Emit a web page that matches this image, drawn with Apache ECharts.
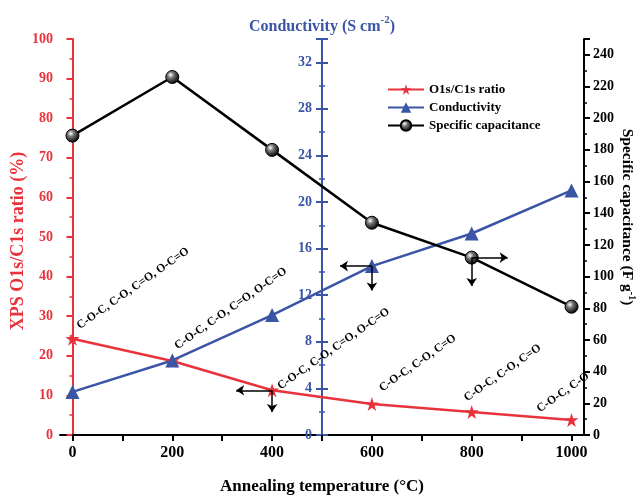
<!DOCTYPE html>
<html>
<head>
<meta charset="utf-8">
<script src="https://cdn.jsdelivr.net/npm/echarts@6/dist/echarts.min.js"></script>
<style>
  html, body { margin: 0; padding: 0; background: #fff; }
  #chart { width: 639px; height: 495px; }
</style>
</head>
<body>
<div id="chart"></div>
<script>
// values
var temps = [0, 200, 400, 600, 800, 1000];
var ratio = [24.3, 18.7, 11.3, 7.8, 5.8, 3.8];          // XPS O1s/C1s (%)
var conductivity = [3.7, 6.4, 10.3, 14.5, 17.3, 21.0];   // S cm-2
var capacitance = [189, 226, 180, 134, 112, 81];         // F g-1
var bondLabels = [
  'C-O-C, C-O, C=O, O-C=O',
  'C-O-C, C-O, C=O, O-C=O',
  'C-O-C, C-O, C=O, O-C=O',
  'C-O-C, C-O, C=O',
  'C-O-C, C-O, C=O',
  'C-O-C, C-O'
];
var xLabelValues = [0, 200, 400, 600, 800, 1000];
var xTickValues = [0, 100, 200, 300, 400, 500, 600, 700, 800, 900, 1000];

var RED = '#e8333c', BLUE = '#3a55a6', BLACK = '#000';
var FONT = 'Liberation Serif';
var SYM = 14;
// where each rotated label starts, relative to its point (px)
var labelShift = [[9, -7], [7, -9], [10, 2], [12, -10], [-3, -8], [-30, -5]];

var ratioData = temps.map(function (t, i) {
  return {
    value: [t, ratio[i]],
    label: { position: [SYM / 2 + labelShift[i][0], SYM / 2 + labelShift[i][1]] }
  };
});
var condData = temps.map(function (t, i) { return [t, conductivity[i]]; });
var capData = temps.map(function (t, i) { return [t, capacitance[i]]; });

var chart = echarts.init(document.getElementById('chart'));

function yAxisBase(color) {
  return {
    type: 'value',
    axisLine: { show: true, lineStyle: { color: color, width: 2 } },
    axisTick: { show: true, length: 6, lineStyle: { color: color, width: 2 } },
    minorTick: { show: true, splitNumber: 2, length: 3, lineStyle: { color: color, width: 1.5 } },
    splitLine: { show: false },
    axisLabel: { color: color, fontFamily: FONT, fontWeight: 'bold', fontSize: 14, margin: 8 }
  };
}

var yLeft = yAxisBase(RED);
yLeft.position = 'left';
yLeft.min = 0; yLeft.max = 100; yLeft.interval = 10;
yLeft.axisLabel.margin = 7;
yLeft.name = 'XPS O1s/C1s ratio (%)';
yLeft.nameLocation = 'middle';
yLeft.nameRotate = 90;
yLeft.nameGap = 33;
yLeft.nameMoveOverlap = false;
yLeft.nameTextStyle = { color: RED, fontFamily: FONT, fontWeight: 'bold', fontSize: 18, padding: [0, 8, 0, 0] };

var yMid = yAxisBase(BLUE);
yMid.position = 'left';
yMid.offset = -262;
yMid.min = 0; yMid.max = 34; yMid.interval = 4;
yMid.axisLabel.showMaxLabel = false;
yMid.axisLabel.fontSize = 14;
yMid.axisLabel.margin = 10;
yMid.name = '{t|Conductivity (S cm}{s|-2}{t|)}';
yMid.nameLocation = 'end';
yMid.nameGap = 4;
yMid.nameTextStyle = {
  rich: {
    t: { color: BLUE, fontFamily: FONT, fontWeight: 'bold', fontSize: 16, lineHeight: 20, verticalAlign: 'bottom' },
    s: { color: BLUE, fontFamily: FONT, fontWeight: 'bold', fontSize: 11, verticalAlign: 'top' }
  }
};

var yMidIn = yAxisBase(BLUE);
yMidIn.position = 'left';
yMidIn.offset = -262;
yMidIn.min = 0; yMidIn.max = 34; yMidIn.interval = 4;
yMidIn.axisTick.inside = true;
yMidIn.axisLabel = { show: false };

var yRight = yAxisBase(BLACK);
yRight.position = 'right';
yRight.min = 0; yRight.max = 250; yRight.interval = 20;
yRight.axisLabel.showMaxLabel = false;
yRight.axisLabel.margin = 9;
yRight.name = '{t|Specific capacitance (F g}{s|-1}{t|)}';
yRight.nameLocation = 'middle';
yRight.nameRotate = -90;
yRight.nameGap = 35;
yRight.nameMoveOverlap = false;
yRight.nameTextStyle = {
  padding: [0, 40, 0, 0],
  rich: {
    t: { color: BLACK, fontFamily: FONT, fontWeight: 'bold', fontSize: 15.5, lineHeight: 18, verticalAlign: 'bottom' },
    s: { color: BLACK, fontFamily: FONT, fontWeight: 'bold', fontSize: 10, verticalAlign: 'top' }
  }
};

var arrowStyle = { color: BLACK, width: 1.5, type: 'solid' };

var option = {
  animation: false,
  backgroundColor: '#fff',
  grid: { left: 60, right: 55, top: 39, bottom: 60, outerBoundsMode: 'none', containLabel: false },
  legend: {
    orient: 'vertical',
    left: 382,
    top: 78,
    itemGap: 5,
    itemWidth: 36,
    itemHeight: 13,
    textStyle: { color: BLACK, fontFamily: FONT, fontWeight: 'bold', fontSize: 13 },
    data: ['O1s/C1s ratio', 'Conductivity', 'Specific capacitance']
  },
  xAxis: {
    type: 'value',
    min: -25,
    max: 1025,
    name: 'Annealing temperature (°C)',
    nameLocation: 'middle',
    nameGap: 43,
    nameTextStyle: { color: BLACK, fontFamily: FONT, fontWeight: 'bold', fontSize: 17 },
    axisLine: { show: true, onZero: false, lineStyle: { color: BLACK, width: 2 } },
    axisTick: { show: true, length: 6, customValues: xTickValues, lineStyle: { color: BLACK, width: 2 } },
    axisLabel: {
      customValues: xLabelValues,
      formatter: function (v) { return String(v); },
      color: BLACK, fontFamily: FONT, fontWeight: 'bold', fontSize: 16, margin: 10
    },
    splitLine: { show: false }
  },
  yAxis: [yLeft, yMid, yRight, yMidIn],
  series: [
    {
      name: 'O1s/C1s ratio',
      type: 'line',
      yAxisIndex: 0,
      data: ratioData,
      symbol: 'path://M50,0 L61.8,36.2 L100,36.2 L69.1,58.6 L80.9,95 L50,72.6 L19.1,95 L30.9,58.6 L0,36.2 L38.2,36.2 Z',
      symbolSize: SYM,
      lineStyle: { color: RED, width: 2.5 },
      itemStyle: { color: RED },
      label: {
        show: true,
        formatter: function (p) { return bondLabels[p.dataIndex]; },
        rotate: 35,
        align: 'left',
        verticalAlign: 'bottom',
        color: BLACK,
        fontFamily: FONT,
        fontWeight: 'bold',
        fontSize: 11.7
      },
      markLine: {
        silent: true,
        symbol: ['none', 'arrow'],
        symbolSize: 8,
        label: { show: false },
        lineStyle: arrowStyle,
        data: [
          [{ coord: [400, 11.3] }, { coord: [328, 11.3] }],
          [{ coord: [400, 11.3] }, { coord: [400, 5.8] }]
        ]
      }
    },
    {
      name: 'Conductivity',
      type: 'line',
      yAxisIndex: 1,
      data: condData,
      symbol: 'triangle',
      symbolSize: SYM,
      lineStyle: { color: BLUE, width: 2.5 },
      itemStyle: { color: BLUE },
      markLine: {
        silent: true,
        symbol: ['none', 'arrow'],
        symbolSize: 8,
        label: { show: false },
        lineStyle: arrowStyle,
        data: [
          [{ coord: [600, 14.5] }, { coord: [536, 14.5] }],
          [{ coord: [600, 14.5] }, { coord: [600, 12.4] }]
        ]
      }
    },
    {
      name: 'Specific capacitance',
      type: 'line',
      yAxisIndex: 2,
      data: capData,
      symbol: 'circle',
      symbolSize: 13,
      lineStyle: { color: BLACK, width: 2.5 },
      itemStyle: {
        color: {
          type: 'radial', x: 0.38, y: 0.35, r: 0.65,
          colorStops: [
            { offset: 0, color: '#ffffff' },
            { offset: 0.35, color: '#777777' },
            { offset: 1, color: '#000000' }
          ]
        },
        borderColor: BLACK,
        borderWidth: 1
      },
      markLine: {
        silent: true,
        symbol: ['none', 'arrow'],
        symbolSize: 8,
        label: { show: false },
        lineStyle: arrowStyle,
        data: [
          [{ coord: [800, 112] }, { coord: [872, 112] }],
          [{ coord: [800, 112] }, { coord: [800, 94] }]
        ]
      }
    }
  ]
};

chart.setOption(option);
</script>
</body>
</html>
